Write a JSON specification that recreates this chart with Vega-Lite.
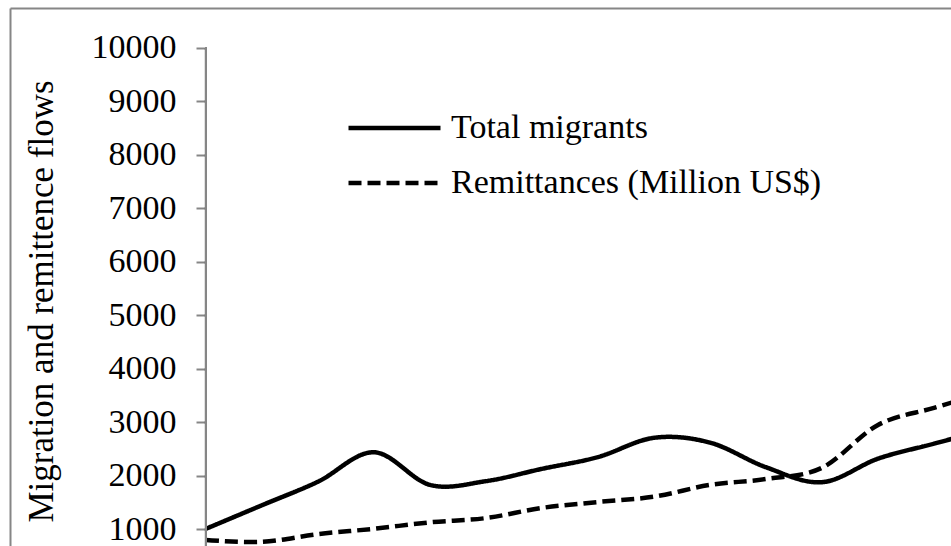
{
  "$schema": "https://vega.github.io/schema/vega-lite/v6.json",
  "autosize": {"type": "none"},
  "padding": {"left": 10, "top": 8, "right": 0, "bottom": 0},
  "width": 941,
  "height": 538,
  "background": "white",
  "config": {"view": {"stroke": null}, "font": "Liberation Serif, Times New Roman, serif"},
  "data": {"values": [
    {"t": 0, "series": "Total migrants", "value": 1010},
    {"t": 1, "series": "Total migrants", "value": 1450},
    {"t": 2, "series": "Total migrants", "value": 1890},
    {"t": 3, "series": "Total migrants", "value": 2440},
    {"t": 4, "series": "Total migrants", "value": 1830},
    {"t": 5, "series": "Total migrants", "value": 1900},
    {"t": 6, "series": "Total migrants", "value": 2130},
    {"t": 7, "series": "Total migrants", "value": 2350},
    {"t": 8, "series": "Total migrants", "value": 2710},
    {"t": 9, "series": "Total migrants", "value": 2620},
    {"t": 10, "series": "Total migrants", "value": 2160},
    {"t": 11, "series": "Total migrants", "value": 1880},
    {"t": 12, "series": "Total migrants", "value": 2320},
    {"t": 13, "series": "Total migrants", "value": 2600},
    {"t": 14, "series": "Total migrants", "value": 2880},
    {"t": 0, "series": "Remittances (Million US$)", "value": 800},
    {"t": 1, "series": "Remittances (Million US$)", "value": 765},
    {"t": 2, "series": "Remittances (Million US$)", "value": 910},
    {"t": 3, "series": "Remittances (Million US$)", "value": 1010},
    {"t": 4, "series": "Remittances (Million US$)", "value": 1130},
    {"t": 5, "series": "Remittances (Million US$)", "value": 1210},
    {"t": 6, "series": "Remittances (Million US$)", "value": 1400},
    {"t": 7, "series": "Remittances (Million US$)", "value": 1510},
    {"t": 8, "series": "Remittances (Million US$)", "value": 1610},
    {"t": 9, "series": "Remittances (Million US$)", "value": 1830},
    {"t": 10, "series": "Remittances (Million US$)", "value": 1940},
    {"t": 11, "series": "Remittances (Million US$)", "value": 2150},
    {"t": 12, "series": "Remittances (Million US$)", "value": 2950},
    {"t": 13, "series": "Remittances (Million US$)", "value": 3270},
    {"t": 14, "series": "Remittances (Million US$)", "value": 3580}
  ]},
  "layer": [
    {
      "mark": {"type": "line", "color": "black", "strokeWidth": 4.5, "interpolate": "cardinal", "tension": 0, "clip": true, "strokeCap": "butt"},
      "encoding": {
        "x": {"field": "t", "type": "quantitative",
              "scale": {"domain": [-3.5, 13.304], "nice": false, "zero": false},
              "axis": {"orient": "top", "domain": true, "domainColor": "#868686", "domainWidth": 2, "ticks": false, "labels": false, "grid": false, "title": null}},
        "y": {"field": "value", "type": "quantitative",
              "scale": {"domain": [688, 10742], "nice": false, "zero": false},
              "axis": {"orient": "left", "offset": -196, "values": [1000, 2000, 3000, 4000, 5000, 6000, 7000, 8000, 9000, 10000], "format": "d",
                       "domain": false, "grid": false, "ticks": true, "tickColor": "#868686", "tickWidth": 2, "tickSize": 10,
                       "labelFont": "Liberation Serif, Times New Roman, serif", "labelFontSize": 34, "labelColor": "black", "labelPadding": 20, "labelOverlap": false,
                       "title": "Migration and remittence flows", "titleFont": "Liberation Serif, Times New Roman, serif", "titleFontSize": 35, "titleFontWeight": "normal",
                       "titleColor": "black", "titleAngle": -90, "titleX": -153.5, "titleY": 293, "titleAlign": "center", "titleBaseline": "alphabetic"}},
        "strokeDash": {"field": "series", "type": "nominal",
                       "scale": {"domain": ["Total migrants", "Remittances (Million US$)"], "range": [[1, 0], [13, 6]]},
                       "legend": {"orient": "none", "legendX": 336, "legendY": 92.5, "title": null, "symbolType": "stroke", "symbolSize": 8464,
                                  "symbolStrokeWidth": 4.5, "symbolStrokeColor": "black", "labelFont": "Liberation Serif, Times New Roman, serif", "labelFontSize": 34,
                                  "labelColor": "black", "labelLimit": 1000, "labelOffset": 8, "clipHeight": 55, "rowPadding": 0, "padding": 0}}
      }
    },
    {
      "mark": {"type": "rule", "color": "#868686", "strokeWidth": 2},
      "encoding": {
        "x": {"datum": 0, "type": "quantitative"},
        "y": {"datum": 10000, "type": "quantitative", "scale": {"domain": [688, 10742], "nice": false, "zero": false},
              "axis": {"orient": "left", "offset": 0, "domain": true, "domainColor": "#868686", "domainWidth": 2, "ticks": false, "labels": false, "grid": false, "title": null}},
        "y2": {"datum": 688}
      }
    }
  ],
  "resolve": {"axis": {"y": "independent"}}
}
